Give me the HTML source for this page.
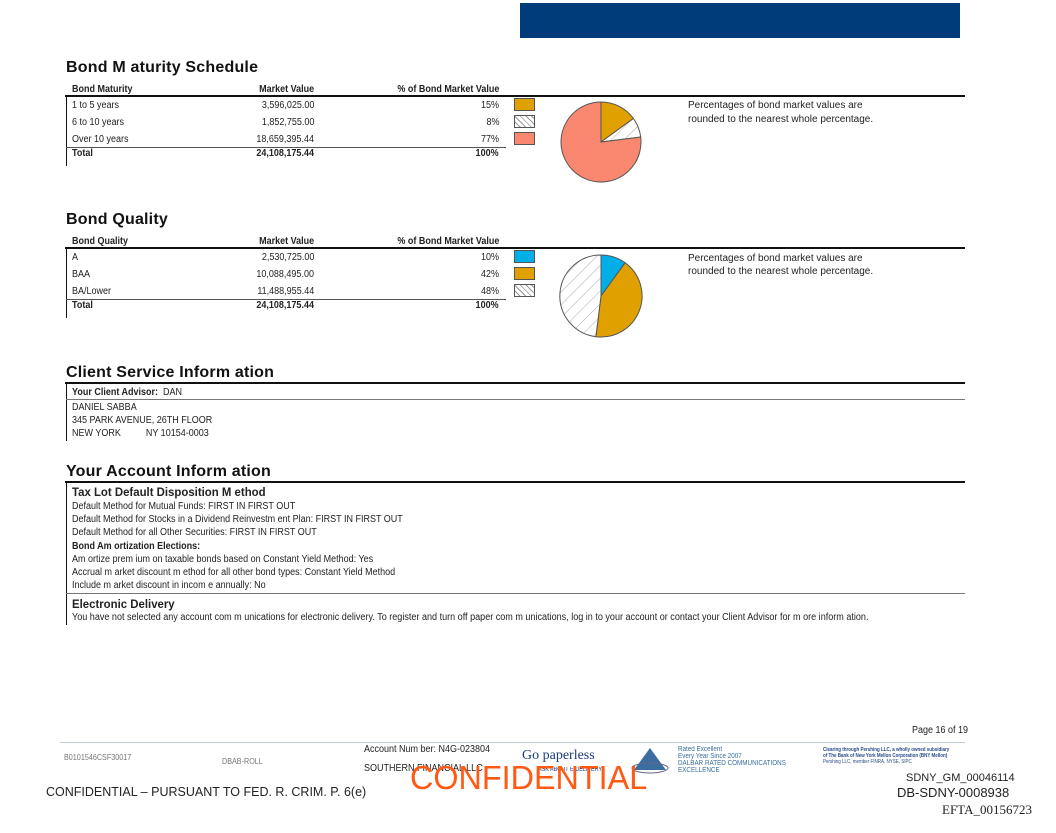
<!DOCTYPE html>
<html><head><meta charset="utf-8"><style>
body{margin:0;width:1056px;height:833px;background:#fff;position:relative;overflow:hidden;font-family:"Liberation Sans",sans-serif;color:#222}
.t{position:absolute;white-space:nowrap;font-size:10px;line-height:12px;transform:scaleX(0.9);transform-origin:left top}
.r{position:absolute;white-space:nowrap;font-size:10px;line-height:12px;transform:scaleX(0.9);transform-origin:right top;text-align:right}
.h{position:absolute;white-space:nowrap;font-size:16px;font-weight:bold;letter-spacing:0.2px;line-height:18px;color:#111}
.b{font-weight:bold}
.ln{position:absolute;background:#111}
.sw{position:absolute;width:21px;height:13px;border:1px solid #555;box-sizing:border-box}
.hat{background:repeating-linear-gradient(45deg,#fff 0 3px,#999 3px 4px)}
.note{position:absolute;white-space:nowrap;font-size:10px;line-height:13px}
</style></head><body>
<div style="position:absolute;left:520px;top:3px;width:440px;height:35px;background:#003b7a"></div>

<div class="h" style="left:66px;top:59px">Bond M aturity Schedule</div>
<div class="t b" style="left:72px;top:84px">Bond Maturity</div>
<div class="r b" style="right:742px;top:84px">Market Value</div>
<div class="r b" style="right:557px;top:84px">% of Bond Market Value</div>
<div class="ln" style="left:65px;top:95px;width:900px;height:2px"></div>
<div class="ln" style="left:66px;top:96px;width:1px;height:70px"></div>
<div class="t" style="left:72px;top:100px">1 to 5 years</div>
<div class="r" style="right:742px;top:100px">3,596,025.00</div>
<div class="r" style="right:557px;top:100px">15%</div>
<div class="t" style="left:72px;top:117px">6 to 10 years</div>
<div class="r" style="right:742px;top:117px">1,852,755.00</div>
<div class="r" style="right:557px;top:117px">8%</div>
<div class="t" style="left:72px;top:134px">Over 10 years</div>
<div class="r" style="right:742px;top:134px">18,659,395.44</div>
<div class="r" style="right:557px;top:134px">77%</div>
<div class="ln" style="left:66px;top:147px;width:440px;height:1px;background:#555"></div>
<div class="t b" style="left:72px;top:148px">Total</div>
<div class="r b" style="right:742px;top:148px">24,108,175.44</div>
<div class="r b" style="right:557px;top:148px">100%</div>
<div class="sw" style="left:514px;top:98px;background:#e0a000"></div>
<div class="sw hat" style="left:514px;top:115px"></div>
<div class="sw" style="left:514px;top:132px;background:#fa8770"></div>
<div class="note" style="left:688px;top:99px">Percentages of bond market values are</div>
<div class="note" style="left:688px;top:113px">rounded to the nearest whole percentage.</div>

<div class="h" style="left:66px;top:211px">Bond Quality</div>
<div class="t b" style="left:72px;top:236px">Bond Quality</div>
<div class="r b" style="right:742px;top:236px">Market Value</div>
<div class="r b" style="right:557px;top:236px">% of Bond Market Value</div>
<div class="ln" style="left:65px;top:247px;width:900px;height:2px"></div>
<div class="ln" style="left:66px;top:248px;width:1px;height:70px"></div>
<div class="t" style="left:72px;top:252px">A</div>
<div class="r" style="right:742px;top:252px">2,530,725.00</div>
<div class="r" style="right:557px;top:252px">10%</div>
<div class="t" style="left:72px;top:269px">BAA</div>
<div class="r" style="right:742px;top:269px">10,088,495.00</div>
<div class="r" style="right:557px;top:269px">42%</div>
<div class="t" style="left:72px;top:286px">BA/Lower</div>
<div class="r" style="right:742px;top:286px">11,488,955.44</div>
<div class="r" style="right:557px;top:286px">48%</div>
<div class="ln" style="left:66px;top:299px;width:440px;height:1px;background:#555"></div>
<div class="t b" style="left:72px;top:300px">Total</div>
<div class="r b" style="right:742px;top:300px">24,108,175.44</div>
<div class="r b" style="right:557px;top:300px">100%</div>
<div class="sw" style="left:514px;top:250px;background:#00aee8"></div>
<div class="sw" style="left:514px;top:267px;background:#e0a000"></div>
<div class="sw hat" style="left:514px;top:284px"></div>
<div class="note" style="left:688px;top:252px">Percentages of bond market values are</div>
<div class="note" style="left:688px;top:265px">rounded to the nearest whole percentage.</div>

<svg style="position:absolute;left:0;top:0" width="1056" height="833">
<defs><pattern id="hp" width="9" height="9" patternUnits="userSpaceOnUse" patternTransform="rotate(45)"><rect width="9" height="9" fill="#fff"/><line x1="0" y1="0" x2="0" y2="9" stroke="#aaa" stroke-width="1"/></pattern></defs>
<g stroke="#555" stroke-width="1">
<path d="M601,142 L601,102 A40,40 0 0 1 633.4,118.5 Z" fill="#e0a000"/>
<path d="M601,142 L633.4,118.5 A40,40 0 0 1 640.7,137 Z" fill="url(#hp)"/>
<path d="M601,142 L640.7,137 A40,40 0 1 1 601,102 Z" fill="#fa8770"/>
<path d="M601,296 L601,255 A41,41 0 0 1 625.1,262.8 Z" fill="#00aee8"/>
<path d="M601,296 L625.1,262.8 A41,41 0 0 1 595.9,336.7 Z" fill="#e0a000"/>
<path d="M601,296 L595.9,336.7 A41,41 0 0 1 601,255 Z" fill="url(#hp)"/>
</g></svg>

<div class="h" style="left:66px;top:364px">Client Service Inform ation</div>
<div class="ln" style="left:65px;top:382px;width:900px;height:2px"></div>
<div class="ln" style="left:66px;top:383px;width:1px;height:58px"></div>
<div class="ln" style="left:66px;top:399px;width:899px;height:1px;background:#777"></div>
<div class="t" style="left:72px;top:387px"><b>Your Client Advisor:</b>&nbsp; DAN</div>
<div class="t" style="left:72px;top:402px">DANIEL SABBA</div>
<div class="t" style="left:72px;top:415px">345 PARK AVENUE, 26TH FLOOR</div>
<div class="t" style="left:72px;top:428px">NEW YORK &nbsp;&nbsp;&nbsp;&nbsp;&nbsp;&nbsp;&nbsp;&nbsp; NY 10154-0003</div>

<div class="h" style="left:66px;top:463px">Your Account Inform ation</div>
<div class="ln" style="left:65px;top:481px;width:900px;height:2px"></div>
<div class="ln" style="left:66px;top:482px;width:1px;height:143px"></div>
<div class="t b" style="left:72px;top:485px;font-size:12px;line-height:14px;transform:scaleX(0.95)">Tax Lot Default Disposition M ethod</div>
<div class="t" style="left:72px;top:501px">Default Method for Mutual Funds: FIRST IN FIRST OUT</div>
<div class="t" style="left:72px;top:514px">Default Method for Stocks in a Dividend Reinvestm ent Plan: FIRST IN FIRST OUT</div>
<div class="t" style="left:72px;top:527px">Default Method for all Other Securities: FIRST IN FIRST OUT</div>
<div class="t b" style="left:72px;top:541px">Bond Am ortization Elections:</div>
<div class="t" style="left:72px;top:554px">Am ortize prem ium on taxable bonds based on Constant Yield Method: Yes</div>
<div class="t" style="left:72px;top:567px">Accrual m arket discount m ethod for all other bond types: Constant Yield Method</div>
<div class="t" style="left:72px;top:580px">Include m arket discount in incom e annually: No</div>
<div class="ln" style="left:66px;top:593px;width:899px;height:1px;background:#777"></div>
<div class="t b" style="left:72px;top:597px;font-size:12px;line-height:14px;transform:scaleX(0.95)">Electronic Delivery</div>
<div class="t" style="left:72px;top:612px;transform:scaleX(0.905)">You have not selected any account com m unications for electronic delivery. To register and turn off paper com m unications, log in to your account or contact your Client Advisor for m ore inform ation.</div>

<div class="t" style="left:912px;top:725px">Page 16 of 19</div>
<div class="ln" style="left:60px;top:742px;width:905px;height:1px;background:#bcd"></div>
<div class="t" style="left:64px;top:752px;font-size:8px;color:#777">B0101546CSF30017</div>
<div class="t" style="left:222px;top:756px;font-size:8px;color:#777">DBAB-ROLL</div>
<div class="t" style="left:364px;top:744px">Account Num ber: N4G-023804</div>
<div class="t" style="left:364px;top:763px">SOUTHERN FINANCIAL LLC</div>
<div class="t" style="left:522px;top:748px;font-size:14px;line-height:16px;color:#1a3a7a;transform:none;font-family:'Liberation Serif',serif">Go paperless</div>
<div class="t" style="left:538px;top:764px;font-size:6px;color:#1a3a7a">ASK ABOUT E-DELIVERY</div>
<svg style="position:absolute;left:630px;top:746px" width="40" height="28"><path d="M20,2 L4,24 L36,24 Z" fill="#3a6ea0"/><ellipse cx="20" cy="22" rx="18" ry="5" fill="none" stroke="#668" /></svg>
<div class="t" style="left:678px;top:746px;font-size:7px;line-height:7px;color:#3a6ea0">Rated Excellent<br>Every Year Since 2007<br>DALBAR RATED COMMUNICATIONS<br>EXCELLENCE</div>
<div class="t" style="left:823px;top:747px;font-size:5px;line-height:6px;color:#2a4a8a;font-weight:bold">Clearing through Pershing LLC, a wholly owned subsidiary<br>of The Bank of New York Mellon Corporation (BNY Mellon)<br><span style="font-weight:normal">Pershing LLC, member FINRA, NYSE, SIPC</span></div>
<div class="t" style="left:410px;top:760px;font-size:33px;line-height:36px;color:#ff5a14;transform:scaleX(0.98)">CONFIDENTIAL</div>
<div class="t" style="left:906px;top:772px;font-size:11px;transform:none">SDNY_GM_00046114</div>
<div class="t" style="left:46px;top:785px;font-size:12.5px;line-height:15px;transform:none">CONFIDENTIAL – PURSUANT TO FED. R. CRIM. P. 6(e)</div>
<div class="t" style="left:897px;top:785px;font-size:13px;line-height:15px;transform:none">DB-SDNY-0008938</div>
<div class="t" style="left:942px;top:802px;font-size:13px;line-height:15px;transform:none;font-family:'Liberation Serif',serif">EFTA_00156723</div>
</body></html>
